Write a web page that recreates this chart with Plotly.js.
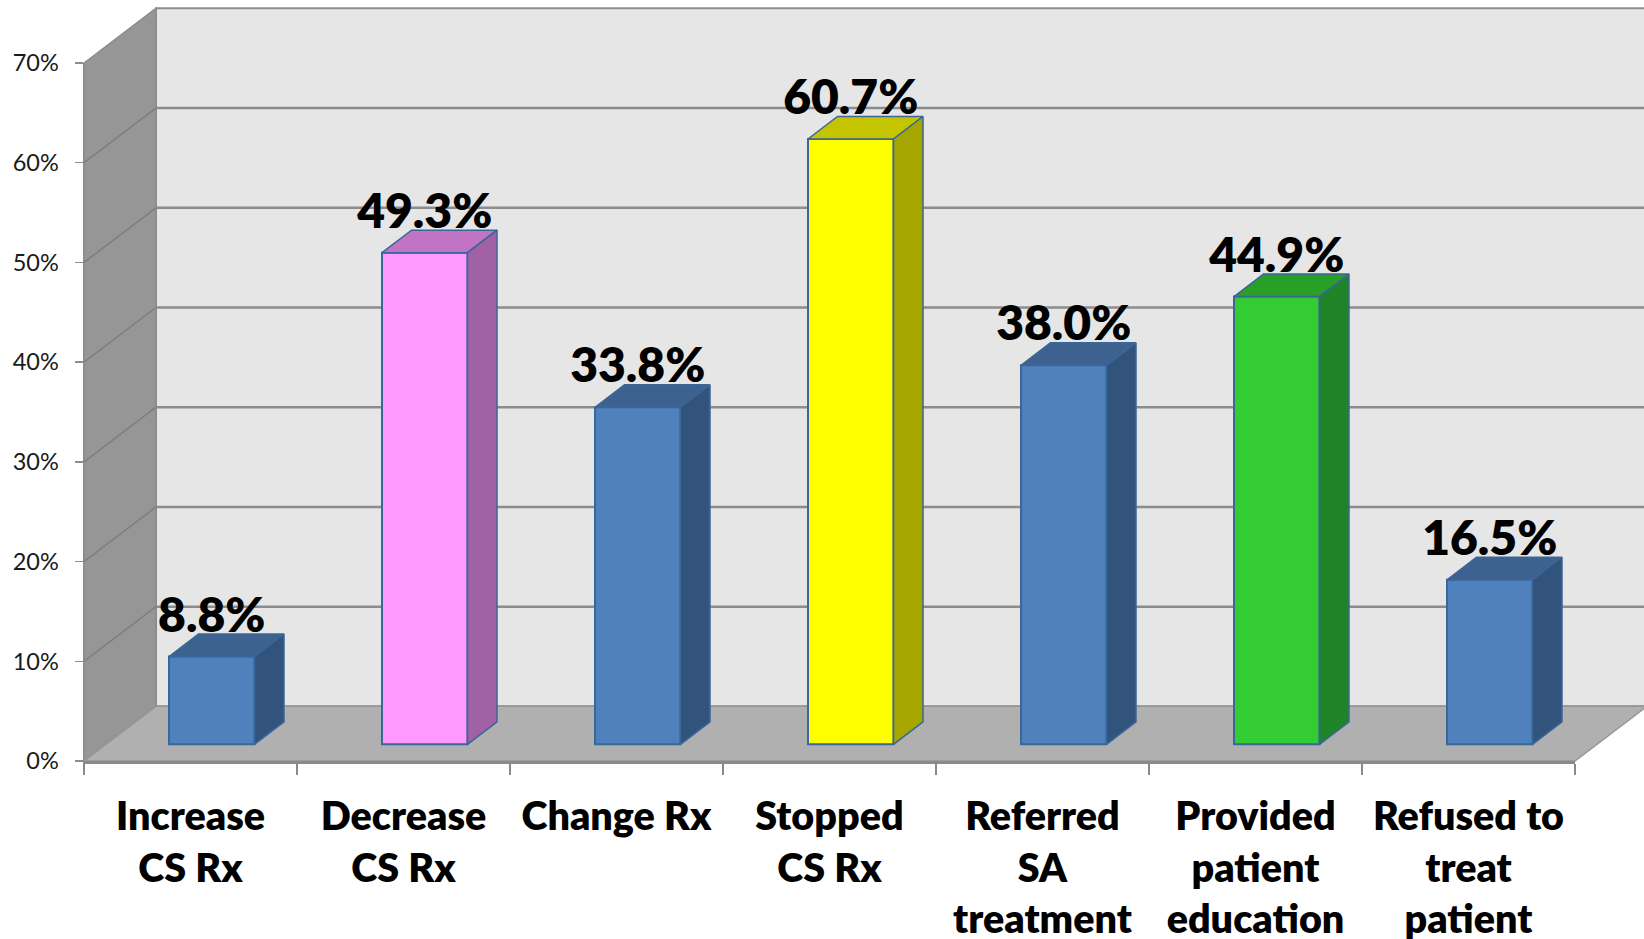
<!DOCTYPE html>
<html><head><meta charset="utf-8">
<script src="https://cdn.plot.ly/plotly-3.0.1.min.js"></script>
<style>html,body{margin:0;padding:0;background:#fff;overflow:hidden}</style>
</head><body><div id="chart" style="width:1644px;height:939px"></div>
<script>
const categories = ["Increase<br>CS Rx","Decrease<br>CS Rx","Change Rx<br> ","Stopped<br>CS Rx","Referred<br>SA<br>treatment","Provided<br>patient<br>education","Refused to<br>treat<br>patient"];
const values = [8.8,49.3,33.8,60.7,38.0,44.9,16.5];
const labels = ["8.8%","49.3%","33.8%","60.7%","38.0%","44.9%","16.5%"];
const yTicks = [0,10,20,30,40,50,60,70];
const frontColors = ["#4F81BD","#FF99FF","#4F81BD","#FFFF00","#4F81BD","#33CC33","#4F81BD"];
const topColors   = ["#3E628F","#C274C4","#3E628F","#C4C400","#3E628F","#28A028","#3E628F"];
const sideColors  = ["#32547C","#A062A4","#32547C","#A6A600","#32547C","#1F8426","#32547C"];

const outline = "#3A6699";
const PW = 1491, PH = 697.4;           // front plane size in px
const NC = categories.length, YMAX = 70;
const wallDx = 72/PW, wallDy = 54.6/PH; // wall depth, paper units
const barW = 85.5/213, barShift = 21.25/213, barBase = 16.7/(PH/YMAX);
const depthX = 29.5/213, depthY = 22.5/(PH/YMAX);

const poly = (pts) => pts.map((p,i)=>(i?"L":"M")+p[0]+","+p[1]).join(" ")+" Z";
const shapes = [];
const W1 = 1;
// back wall, side wall, floor
shapes.push({type:"path",xref:"paper",yref:"paper",layer:"below",path:poly([[wallDx,wallDy],[W1+wallDx,wallDy],[W1+wallDx,1+wallDy],[wallDx,1+wallDy]]),fillcolor:"#E6E6E6",line:{color:"#8E8E8E",width:2}});
shapes.push({type:"path",xref:"paper",yref:"paper",layer:"below",path:poly([[0,0],[wallDx,wallDy],[wallDx,1+wallDy],[0,1]]),fillcolor:"#969696",line:{color:"#8C8C8C",width:1.5}});
shapes.push({type:"path",xref:"paper",yref:"paper",layer:"below",path:poly([[0,0],[W1,0],[W1+wallDx,wallDy],[wallDx,wallDy]]),fillcolor:"#B0B0B0",line:{color:"#969696",width:1.5}});
yTicks.forEach(t=>{
  const p=t/YMAX;
  if(t>0&&t<YMAX){
    shapes.push({type:"line",xref:"paper",yref:"paper",layer:"below",x0:wallDx,x1:W1+wallDx,y0:p+wallDy,y1:p+wallDy,line:{color:"#8C8C8C",width:2.5}});
    shapes.push({type:"line",xref:"paper",yref:"paper",layer:"below",x0:0,x1:wallDx,y0:p,y1:p+wallDy,line:{color:"#7E7E7E",width:1.5}});
  }
});

const traces = [];
const xLeft = categories.map((c,i)=>i+0.5+barShift-barW/2);
traces.push({type:"bar",x:categories.map((c,i)=>i+0.5+barShift),y:values,base:values.map(()=>barBase),width:barW,
  marker:{color:frontColors,line:{color:outline,width:2}},hoverinfo:"skip",cliponaxis:false,showlegend:false});
values.forEach((v,i)=>{
  const l=xLeft[i], r=l+barW, t=v+barBase, b=barBase;
  traces.push({type:"scatter",mode:"lines",fill:"toself",fillcolor:topColors[i],x:[l,r,r+depthX,l+depthX,l],y:[t,t,t+depthY,t+depthY,t],
    line:{color:outline,width:1.5},hoverinfo:"skip",cliponaxis:false,showlegend:false});
  traces.push({type:"scatter",mode:"lines",fill:"toself",fillcolor:sideColors[i],x:[r,r+depthX,r+depthX,r,r],y:[t,t+depthY,b+depthY,b,t],
    line:{color:outline,width:1.5},hoverinfo:"skip",cliponaxis:false,showlegend:false});
});
traces.push({type:"scatter",mode:"text",x:xLeft.map(l=>l+barW/2),y:values.map(v=>v+barBase+1.3),text:labels,textposition:"top center",
  textfont:{family:"Lato",size:48,color:"#000",weight:800},hoverinfo:"skip",cliponaxis:false,showlegend:false});

const layout = {
  width:1644,height:939,autosize:false,showlegend:false,paper_bgcolor:"#fff",plot_bgcolor:"rgba(0,0,0,0)",
  margin:{l:84,r:69,t:63.3,b:178.3,pad:0},
  shapes:shapes,
  bargap:0,
  xaxis:{type:"linear",range:[0,NC],tickmode:"array",tickvals:categories.map((c,i)=>i+0.5),ticktext:categories,
    ticks:"",showgrid:false,zeroline:false,showline:true,linecolor:"#8A8A8A",linewidth:3,
    tickfont:{family:"Lato",size:39.5,color:"#000",weight:800},tickangle:0,ticklabelstandoff:19,automargin:false,
    minor:{tickmode:"linear",tick0:0,dtick:1,ticks:"outside",ticklen:11,tickwidth:2,tickcolor:"#8A8A8A",showgrid:false}},
  yaxis:{range:[0,YMAX],tickmode:"array",tickvals:yTicks,ticktext:yTicks.map(t=>t+"%"),ticks:"outside",ticklen:8,tickwidth:1.5,tickcolor:"#8C8C8C",
    showgrid:false,zeroline:false,showline:true,linecolor:"#8C8C8C",linewidth:1.5,
    tickfont:{family:"Lato",size:23.5,color:"#1A1A1A"},ticklabelstandoff:11,ticklabelshift:1.5,automargin:false}
};
Plotly.newPlot("chart",traces,layout,{displayModeBar:false,staticPlot:true});
</script></body></html>
